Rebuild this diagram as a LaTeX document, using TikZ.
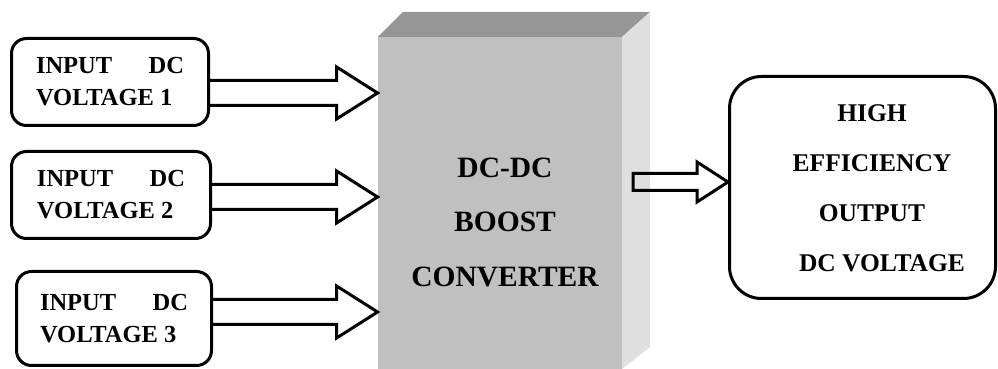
\documentclass[tikz,border=0pt]{standalone}
\usepackage{fontspec}
\setmainfont{Liberation Serif}
\usepackage{tikz}
\usetikzlibrary{calc}

\definecolor{frontgray}{RGB}{192,192,192}
\definecolor{topgray}{RGB}{150,150,150}
\definecolor{sidegray}{RGB}{223,223,223}

% hollow block arrow: start, tip, shaft half height, head half height, head length
\newcommand\fatarrow[5]{%
  \draw[fatline] let \p1=(#1), \p2=(#2) in
    (\x1,\y1+#3) -- (\x2-#5,\y1+#3) -- (\x2-#5,\y1+#4) -- (\x2,\y1)
    -- (\x2-#5,\y1-#4) -- (\x2-#5,\y1-#3) -- (\x1,\y1-#3);}
\newcommand\inputlabel[1]{\makebox[74pt][s]{INPUT\hfill DC}\\VOLTAGE #1}

\begin{document}
\begin{tikzpicture}[x=0.5pt,y=-0.5pt,
    inbox/.style={draw, line width=1.5pt, rounded corners=7.5pt,
                  align=left, inner sep=0pt,
                  font=\bfseries\fontsize{12.25}{16}\selectfont},
    fatline/.style={line width=1.5pt, miter limit=4},
  ]
  \useasboundingbox (0,0) rectangle (998,369);

  % converter block
  \fill[topgray] (378,37) -- (403,12) -- (650,12) -- (622,37) -- cycle;
  \fill[sidegray] (622,37) -- (650,12) -- (650,347) -- (622,369) -- cycle;
  \node[fill=frontgray, minimum width=122pt, minimum height=166pt,
        inner sep=0pt] (conv) at (500,203) {};
  \node[align=center, font=\bfseries\fontsize{14.75}{27.25}\selectfont]
    (convtxt) at (505,222) {DC-DC\\BOOST\\CONVERTER};

  % input boxes
  \node[inbox, minimum width=98.5pt, minimum height=43.5pt] (b1) at (110,82) {\inputlabel{1}};
  \node[inbox, minimum width=99.5pt, minimum height=43.5pt] (b2) at (111,195) {\inputlabel{2}};
  \node[inbox, minimum width=97.5pt, minimum height=47pt] (b3) at (114,318.5) {\inputlabel{3}};

  % output box
  \node[draw, line width=1.5pt, rounded corners=16pt, minimum width=133pt,
        minimum height=111pt] (out) at (862.5,187.5) {};
  \node[align=center, font=\bfseries\fontsize{12.75}{25}\selectfont]
    (outtxt) at (872,188) {HIGH\\EFFICIENCY\\OUTPUT\\\hspace*{10pt}DC VOLTAGE};

  % arrows
  \coordinate (a1) at (b1.east |- 0,93);
  \coordinate (a2) at (b2.east |- 0,197);
  \coordinate (a3) at (b3.east |- 0,312);
  \coordinate (a4) at (633,182);
  \fatarrow{a1}{a1 -| conv.west}{6.25pt}{13pt}{20.5pt}
  \fatarrow{a2}{a2 -| conv.west}{6.25pt}{13pt}{20.5pt}
  \fatarrow{a3}{a3 -| conv.west}{6.25pt}{13pt}{20.5pt}
  \draw[fatline] let \p1=(a4), \p2=(a4 -| out.west) in
    (\x1,\y1+4.25pt) -- (\x2-15.5pt,\y1+4.25pt) -- (\x2-15.5pt,\y1+10pt) -- (\x2,\y1)
    -- (\x2-15.5pt,\y1-10pt) -- (\x2-15.5pt,\y1-4.25pt) -- (\x1,\y1-4.25pt) -- cycle;
\end{tikzpicture}
\end{document}
